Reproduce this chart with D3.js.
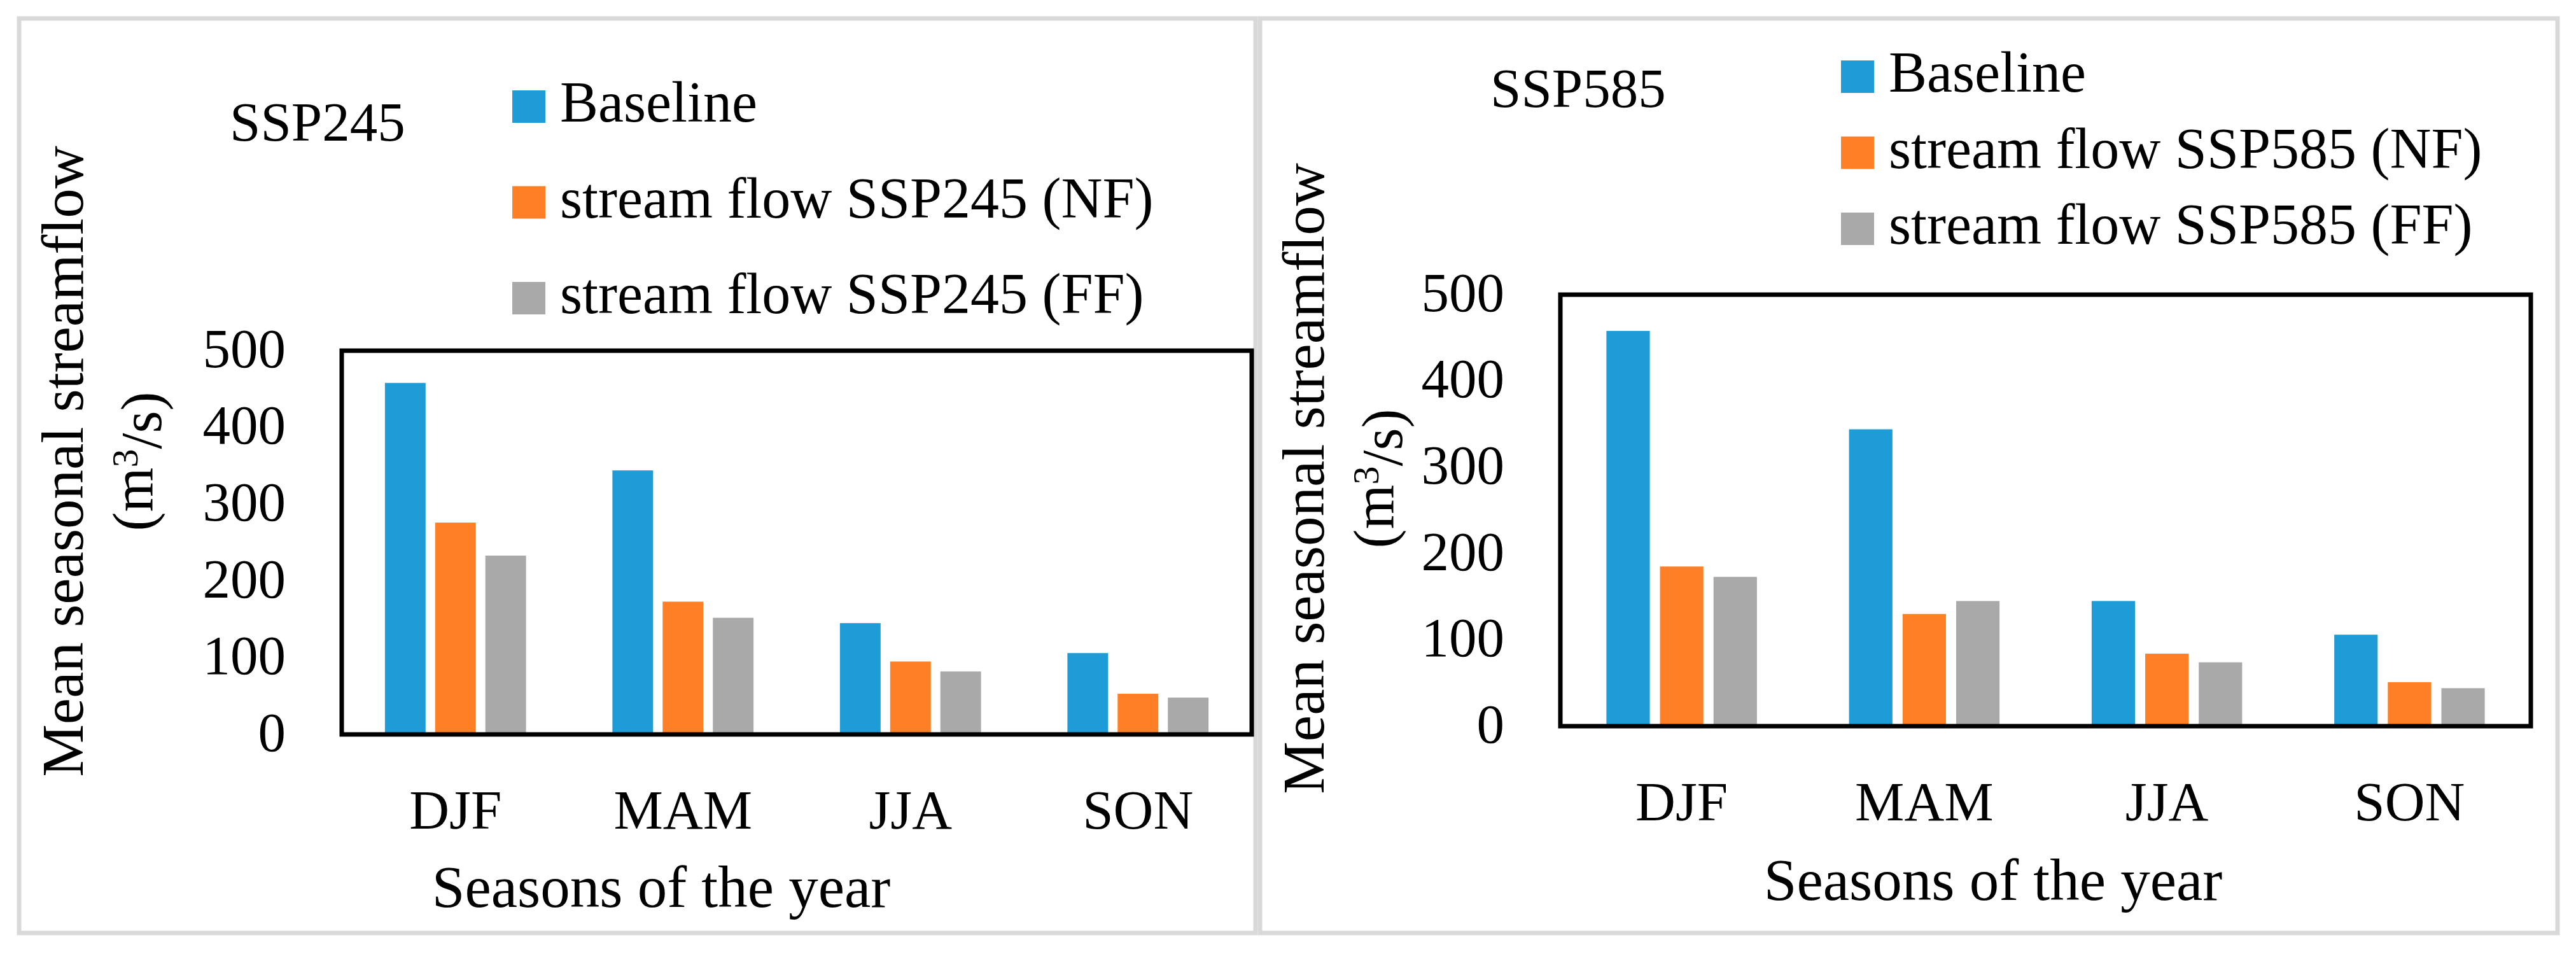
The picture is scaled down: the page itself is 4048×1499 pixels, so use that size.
<!DOCTYPE html>
<html>
<head>
<meta charset="utf-8">
<script src="https://cdn.jsdelivr.net/npm/d3@7"></script>
<style>
  body { margin: 0; background: #fff; }
  text { font-family: "Liberation Serif", "Times New Roman", serif; fill: #000; }
</style>
</head>
<body>
<div id="chart"></div>
<script>
const seasons = ['DJF', 'MAM', 'JJA', 'SON'];
const yTicks = [0, 100, 200, 300, 400, 500];

const baseline = [458, 344, 145, 106];
const ssp245NF = [276, 173, 95, 53];
const ssp245FF = [233, 152, 82, 48];
const ssp585NF = [185, 130, 84, 51];
const ssp585FF = [173, 145, 74, 44];

const colors = ['#1e9cd7', '#fe7f26', '#a9a9a9'];
const fontSize = 87;
const titleSize = 90;

const width = 4048;
const height = 1499;

const svg = d3.select('#chart').append('svg')
  .attr('width', width)
  .attr('height', height)
  .attr('viewBox', `0 0 ${width} ${height}`);

// one panel = grey frame, legend, plot box with grouped bars
function panel(opts) {
  const names = ['Baseline', `stream flow ${opts.name} (NF)`, `stream flow ${opts.name} (FF)`];
  const series = [baseline, opts.nf, opts.ff];
  const data = seasons.map((s, i) => ({
    season: s,
    values: series.map((v, k) => ({ key: names[k], value: v[i], color: colors[k] }))
  }));

  // outer frame
  svg.append('rect')
    .attr('x', opts.frame[0]).attr('y', 29)
    .attr('width', opts.frame[1] - opts.frame[0]).attr('height', 1437)
    .attr('fill', 'none').attr('stroke', '#d9d9d9').attr('stroke-width', 7);

  const b = opts.box;
  const x0 = d3.scaleBand().domain(seasons).range([b.x0, b.x1]);
  const x1 = d3.scaleBand().domain(names).range([0, x0.bandwidth()])
    .paddingInner(0.19).paddingOuter(0.86);
  const y = d3.scaleLinear().domain([0, 500]).range([b.y1, b.y0]);

  // bars
  const groups = svg.append('g').selectAll('g').data(data).enter()
    .append('g').attr('transform', d => `translate(${x0(d.season)},0)`);
  groups.selectAll('rect').data(d => d.values).enter()
    .append('rect')
    .attr('x', d => x1(d.key))
    .attr('y', d => y(d.value))
    .attr('width', x1.bandwidth())
    .attr('height', d => y(0) - y(d.value))
    .attr('fill', d => d.color);

  // plot box
  svg.append('rect')
    .attr('x', b.x0).attr('y', b.y0)
    .attr('width', b.x1 - b.x0).attr('height', b.y1 - b.y0)
    .attr('fill', 'none').attr('stroke', '#000').attr('stroke-width', 7);

  // y axis labels
  const yAxis = svg.append('g')
    .attr('transform', `translate(${b.x0},0)`)
    .call(d3.axisLeft(y).tickValues(yTicks).tickSize(0).tickPadding(88));
  yAxis.select('.domain').remove();
  yAxis.selectAll('text')
    .attr('dy', '0.29em')
    .style('font-family', '"Liberation Serif", serif')
    .style('font-size', fontSize + 'px');

  // x axis labels
  const xAxis = svg.append('g')
    .attr('transform', `translate(0,${b.y1})`)
    .call(d3.axisBottom(x0).tickSize(0).tickPadding(86));
  xAxis.select('.domain').remove();
  xAxis.selectAll('text')
    .style('font-family', '"Liberation Serif", serif')
    .style('font-size', fontSize + 'px');

  // scenario title
  svg.append('text')
    .attr('x', opts.title[0]).attr('y', opts.title[1])
    .style('font-size', fontSize + 'px')
    .text(opts.name);

  // legend
  const leg = opts.legend;
  const items = svg.append('g').selectAll('g').data(names).enter()
    .append('g').attr('transform', (d, i) => `translate(${leg.x},${leg.y + i * leg.step})`);
  items.append('rect')
    .attr('width', 52).attr('height', 51)
    .attr('fill', (d, i) => colors[i]);
  items.append('text')
    .attr('x', 75).attr('y', 49)
    .style('font-size', titleSize + 'px')
    .text(d => d);

  // y title, two lines
  const yt = opts.yTitle;
  svg.append('text')
    .attr('transform', `translate(${yt.x},${yt.cy}) rotate(-90)`)
    .attr('text-anchor', 'middle')
    .style('font-size', (titleSize + 3) + 'px')
    .text('Mean seasonal streamflow');
  const unit = svg.append('text')
    .attr('transform', `translate(${yt.x + 110},${yt.cy}) rotate(-90)`)
    .attr('text-anchor', 'middle')
    .style('font-size', titleSize + 'px');
  unit.append('tspan').text('(m');
  unit.append('tspan').attr('dy', '-0.42em').style('font-size', '58px').text('3');
  unit.append('tspan').attr('dy', '0.42em').text('/s)');

  // x title
  svg.append('text')
    .attr('x', opts.xTitle[0]).attr('y', opts.xTitle[1])
    .attr('text-anchor', 'middle')
    .style('font-size', (titleSize + 3) + 'px')
    .text('Seasons of the year');
}

panel({
  name: 'SSP245', nf: ssp245NF, ff: ssp245FF,
  frame: [30, 1973],
  box: { x0: 537, x1: 1967, y0: 551, y1: 1154 },
  title: [361, 221],
  legend: { x: 805, y: 142, step: 150.5 },
  yTitle: { x: 130, cy: 725 },
  xTitle: [1039, 1425]
});

panel({
  name: 'SSP585', nf: ssp585NF, ff: ssp585FF,
  frame: [1980, 4019],
  box: { x0: 2452, x1: 3977, y0: 463, y1: 1141 },
  title: [2342, 168],
  legend: { x: 2893, y: 95, step: 119.5 },
  yTitle: { x: 2080, cy: 752 },
  xTitle: [3132, 1414]
});
</script>
</body>
</html>
